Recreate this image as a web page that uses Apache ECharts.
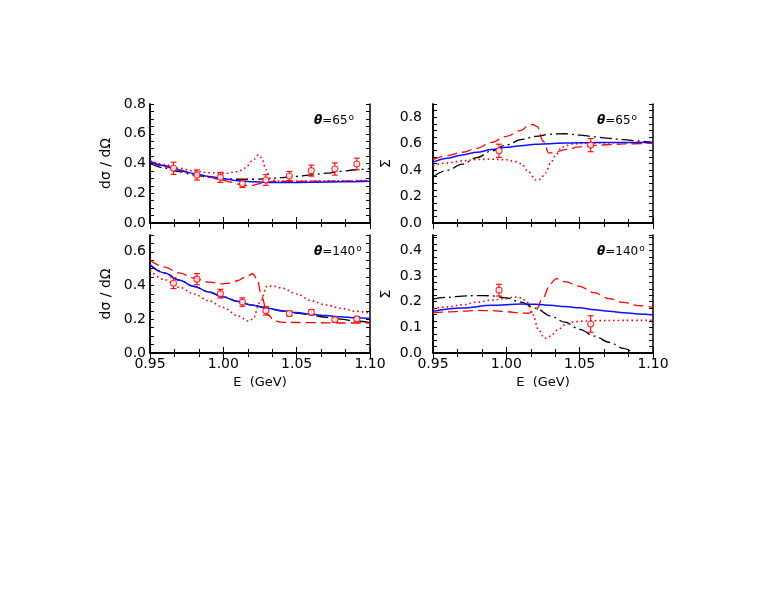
<!DOCTYPE html>
<html>
<head>
<meta charset="utf-8">
<script src="https://cdn.jsdelivr.net/npm/echarts@6/dist/echarts.min.js"></script>
<style>
  html, body { margin: 0; padding: 0; background: #fff; }
  #chart { width: 770px; height: 595px; }
</style>
</head>
<body>
<div id="chart"></div>
<script>
// ---- data ----
var X_TICKS = [0.95, 1.00, 1.05, 1.10];

// measured points, cross section
var E_DCS = [0.966, 0.982, 0.998, 1.013, 1.029, 1.045, 1.060, 1.076, 1.091];
var DCS65 = [0.368, 0.323, 0.307, 0.264, 0.289, 0.316, 0.352, 0.363, 0.397];
var DCS65_ERR = [0.041, 0.034, 0.034, 0.025, 0.036, 0.031, 0.037, 0.041, 0.039];
var DCS140 = [0.414, 0.438, 0.352, 0.302, 0.250, 0.234, 0.242, 0.198, 0.202];
var DCS140_ERR = [0.032, 0.033, 0.026, 0.025, 0.025, 0.015, 0.016, 0.014, 0.015];

// measured points, beam asymmetry
var E_ASY = [0.995, 1.0575];
var ASY65 = [0.546, 0.589];
var ASY65_ERR = [0.05, 0.05];
var ASY140 = [0.245, 0.113];
var ASY140_ERR = [0.023, 0.032];

// model curves [E, value]
var DCS65_BLUE = [[0.95,0.415],[0.96,0.385],[0.97,0.356],[0.98,0.332],[0.99,0.313],[1.00,0.298],[1.01,0.284],[1.02,0.277],[1.03,0.273],[1.04,0.272],[1.06,0.274],[1.08,0.277],[1.10,0.281]];
var DCS65_BLACK = [[0.95,0.40],[0.96,0.37],[0.97,0.345],[0.98,0.322],[0.99,0.307],[1.00,0.298],[1.01,0.294],[1.02,0.294],[1.03,0.297],[1.04,0.305],[1.05,0.314],[1.06,0.323],[1.07,0.335],[1.08,0.347],[1.09,0.358],[1.10,0.365]];
var DCS65_DASH = [[0.95,0.41],[0.96,0.38],[0.97,0.352],[0.98,0.328],[0.99,0.307],[1.00,0.287],[1.005,0.275],[1.01,0.262],[1.015,0.252],[1.02,0.253],[1.025,0.265],[1.03,0.277],[1.04,0.28],[1.06,0.281],[1.08,0.282],[1.10,0.283]];
var DCS65_DOT = [[0.95,0.42],[0.96,0.393],[0.97,0.368],[0.98,0.35],[0.99,0.338],[1.00,0.333],[1.01,0.345],[1.015,0.37],[1.02,0.42],[1.024,0.458],[1.026,0.44],[1.029,0.36],[1.032,0.30],[1.036,0.282],[1.05,0.281],[1.07,0.283],[1.10,0.286]];

var DCS140_BLUE = [[0.95,0.525],[0.96,0.475],[0.97,0.432],[0.98,0.395],[0.99,0.362],[1.00,0.332],[1.01,0.305],[1.02,0.283],[1.03,0.265],[1.04,0.251],[1.05,0.24],[1.06,0.23],[1.07,0.222],[1.08,0.215],[1.09,0.209],[1.10,0.204]];
var DCS140_BLACK = [[0.95,0.52],[0.96,0.473],[0.97,0.432],[0.98,0.395],[0.99,0.362],[1.00,0.333],[1.01,0.306],[1.02,0.284],[1.03,0.265],[1.04,0.249],[1.05,0.236],[1.06,0.224],[1.07,0.212],[1.08,0.201],[1.09,0.19],[1.10,0.18]];
var DCS140_DASH = [[0.95,0.55],[0.96,0.51],[0.97,0.475],[0.98,0.445],[0.99,0.42],[1.00,0.41],[1.005,0.415],[1.01,0.43],[1.015,0.45],[1.02,0.47],[1.023,0.44],[1.026,0.34],[1.03,0.23],[1.035,0.19],[1.04,0.182],[1.06,0.18],[1.08,0.178],[1.10,0.178]];
var DCS140_DOT = [[0.95,0.49],[0.96,0.435],[0.97,0.39],[0.98,0.35],[0.99,0.31],[1.00,0.27],[1.01,0.22],[1.017,0.19],[1.02,0.20],[1.025,0.30],[1.03,0.398],[1.035,0.395],[1.04,0.385],[1.05,0.35],[1.06,0.31],[1.07,0.285],[1.08,0.265],[1.09,0.248],[1.10,0.237]];

var ASY65_BLUE = [[0.95,0.46],[0.96,0.49],[0.97,0.515],[0.98,0.535],[0.99,0.555],[1.00,0.572],[1.01,0.585],[1.02,0.595],[1.03,0.60],[1.04,0.605],[1.06,0.608],[1.08,0.609],[1.10,0.61]];
var ASY65_BLACK = [[0.95,0.35],[0.96,0.40],[0.97,0.445],[0.98,0.495],[0.99,0.545],[1.00,0.59],[1.01,0.63],[1.02,0.655],[1.03,0.672],[1.04,0.675],[1.05,0.665],[1.06,0.652],[1.07,0.64],[1.08,0.63],[1.09,0.62],[1.10,0.608]];
var ASY65_DASH = [[0.95,0.48],[0.96,0.51],[0.97,0.535],[0.98,0.565],[0.99,0.61],[1.00,0.655],[1.01,0.70],[1.015,0.735],[1.018,0.745],[1.021,0.73],[1.025,0.62],[1.029,0.53],[1.032,0.53],[1.04,0.555],[1.05,0.575],[1.06,0.587],[1.07,0.593],[1.08,0.598],[1.10,0.603]];
var ASY65_DOT = [[0.95,0.435],[0.96,0.455],[0.97,0.47],[0.98,0.48],[0.99,0.483],[1.00,0.478],[1.005,0.468],[1.01,0.45],[1.015,0.39],[1.02,0.325],[1.023,0.33],[1.027,0.38],[1.03,0.45],[1.034,0.52],[1.038,0.575],[1.045,0.598],[1.06,0.605],[1.08,0.607],[1.10,0.607]];

var ASY140_BLUE = [[0.95,0.163],[0.97,0.175],[0.99,0.186],[1.01,0.191],[1.02,0.19],[1.03,0.186],[1.04,0.181],[1.05,0.176],[1.06,0.169],[1.07,0.163],[1.08,0.157],[1.09,0.152],[1.10,0.148]];
var ASY140_BLACK = [[0.95,0.21],[0.96,0.217],[0.97,0.222],[0.98,0.224],[0.99,0.223],[1.00,0.215],[1.01,0.198],[1.02,0.175],[1.03,0.145],[1.04,0.12],[1.05,0.092],[1.06,0.066],[1.07,0.042],[1.08,0.018],[1.09,-0.006],[1.10,-0.03]];
var ASY140_DASH = [[0.95,0.157],[0.96,0.16],[0.97,0.163],[0.98,0.166],[0.99,0.165],[1.00,0.161],[1.01,0.156],[1.015,0.155],[1.02,0.165],[1.025,0.215],[1.03,0.27],[1.034,0.29],[1.04,0.278],[1.05,0.26],[1.06,0.235],[1.07,0.212],[1.08,0.197],[1.09,0.185],[1.10,0.177]];
var ASY140_DOT = [[0.95,0.172],[0.96,0.18],[0.97,0.188],[0.98,0.198],[0.99,0.206],[1.00,0.212],[1.005,0.218],[1.01,0.215],[1.014,0.2],[1.018,0.15],[1.022,0.09],[1.026,0.057],[1.03,0.065],[1.035,0.09],[1.04,0.11],[1.045,0.12],[1.05,0.124],[1.06,0.126],[1.08,0.127],[1.10,0.127]];

// ---- layout ----
var FONT = 'DejaVu Sans';
var RED = '#ff0000', BLUE = '#1010ff';

var panels = [
  { grid: { left: 150, top: 104, width: 220, height: 119 }, yMax: 0.8, yStep: 0.05, labStep: 0.2,
    yName: 'dσ / dΩ', nameGap: 37, labMargin: 4, angle: '65', bottom: false,
    curves: [DCS65_BLACK, DCS65_DASH, DCS65_DOT, DCS65_BLUE], ex: E_DCS, ey: DCS65, ee: DCS65_ERR },
  { grid: { left: 150, top: 235, width: 220, height: 118 }, yMax: 0.7, yStep: 0.05, labStep: 0.2,
    yName: 'dσ / dΩ', nameGap: 37, labMargin: 4, angle: '140', bottom: true,
    curves: [DCS140_BLACK, DCS140_DASH, DCS140_DOT, DCS140_BLUE], ex: E_DCS, ey: DCS140, ee: DCS140_ERR },
  { grid: { left: 433, top: 104, width: 220, height: 119 }, yMax: 0.9, yStep: 0.05, labStep: 0.2,
    yName: 'Σ', nameGap: 40, labMargin: 11, angle: '65', bottom: false,
    curves: [ASY65_BLACK, ASY65_DASH, ASY65_DOT, ASY65_BLUE], ex: E_ASY, ey: ASY65, ee: ASY65_ERR },
  { grid: { left: 433, top: 235, width: 220, height: 118 }, yMax: 0.46, yStep: 0.025, labStep: 0.1,
    yName: 'Σ', nameGap: 40, labMargin: 11, angle: '140', bottom: true,
    curves: [ASY140_BLACK, ASY140_DASH, ASY140_DOT, ASY140_BLUE], ex: E_ASY, ey: ASY140, ee: ASY140_ERR }
];

var curveStyles = [
  { color: '#000', width: 1.3, type: [12, 4, 2, 4] },
  { color: RED, width: 1.3, type: [10, 5] },
  { color: RED, width: 1.6, type: [1.6, 3] },
  { color: BLUE, width: 1.5, type: 'solid' }
];

function isMult(v, step) {
  var r = v / step;
  return Math.abs(r - Math.round(r)) < 1e-6;
}

var grids = [], xAxes = [], yAxes = [], series = [], graphics = [];
var AX_LINE = { show: true, lineStyle: { color: '#000', width: 1.5 } };
var TICK_STYLE = { color: '#000', width: 1 };

panels.forEach(function (p, i) {
  grids.push(p.grid);
  var xi = xAxes.length, yi = yAxes.length;
  var w = p.grid.width, h = p.grid.height;

  var xBase = {
    type: 'value', gridIndex: i, min: X_TICKS[0], max: X_TICKS[X_TICKS.length - 1], interval: 0.05,
    splitLine: { show: false }, axisLine: AX_LINE,
    axisTick: { length: 6, lineStyle: TICK_STYLE },
    minorTick: { show: true, splitNumber: 3, length: 4, lineStyle: TICK_STYLE },
    axisLabel: { show: false }
  };
  // labelled bottom axis (no ticks)
  xAxes.push(Object.assign({}, xBase, {
    position: 'bottom', axisTick: { show: false }, minorTick: { show: false },
    axisLabel: { show: p.bottom, fontFamily: FONT, fontSize: 14, color: '#000', margin: 4,
      formatter: function (v) { return v.toFixed(2); } },
    name: p.bottom ? 'E  (GeV)' : '', nameLocation: 'middle', nameGap: 23,
    nameTextStyle: { fontFamily: FONT, fontSize: 13, color: '#000' }
  }));
  // ticks pointing up from the bottom edge, and down from the top edge
  xAxes.push(Object.assign({}, xBase, { position: 'top', offset: -h }));
  xAxes.push(Object.assign({}, xBase, { position: 'bottom', offset: -h }));

  var yBase = {
    type: 'value', gridIndex: i, min: 0, max: p.yMax, interval: p.yStep,
    splitLine: { show: false }, axisLine: AX_LINE,
    axisTick: { length: 4, lineStyle: TICK_STYLE },
    axisLabel: { show: false }
  };
  yAxes.push(Object.assign({}, yBase, {
    position: 'left', axisTick: { show: false },
    axisLabel: { fontFamily: FONT, fontSize: 14, color: '#000', margin: p.labMargin,
      formatter: function (v) { return isMult(v, p.labStep) ? v.toFixed(1) : ''; } },
    name: p.yName, nameLocation: 'middle', nameGap: p.nameGap,
    nameTextStyle: { fontFamily: FONT, fontSize: 14, color: '#000' }
  }));
  yAxes.push(Object.assign({}, yBase, { position: 'right', offset: -w }));
  yAxes.push(Object.assign({}, yBase, { position: 'left', offset: -w }));

  p.curves.forEach(function (c, k) {
    var s = curveStyles[k];
    series.push({
      type: 'line', xAxisIndex: xi, yAxisIndex: yi, data: c,
      symbol: 'none', smooth: 0.35, smoothMonotone: 'x', clip: true, z: 2 + (k === 3 ? 1 : 0),
      lineStyle: { color: s.color, width: s.width, type: s.type }
    });
  });

  series.push({
    type: 'custom', xAxisIndex: xi, yAxisIndex: yi, z: 5,
    data: p.ex.map(function (e, j) { return [e, p.ey[j], p.ee[j]]; }),
    renderItem: function (params, api) {
      var x = api.value(0), y = api.value(1), d = api.value(2);
      var t = api.coord([x, y + d]), b = api.coord([x, y - d]);
      var st = { stroke: RED, lineWidth: 1.1 };
      return { type: 'group', children: [
        { type: 'line', shape: { x1: t[0], y1: t[1], x2: b[0], y2: b[1] }, style: st },
        { type: 'line', shape: { x1: t[0] - 3, y1: t[1], x2: t[0] + 3, y2: t[1] }, style: st },
        { type: 'line', shape: { x1: b[0] - 3, y1: b[1], x2: b[0] + 3, y2: b[1] }, style: st }
      ] };
    }
  });
  series.push({
    type: 'scatter', xAxisIndex: xi, yAxisIndex: yi, z: 6,
    data: p.ex.map(function (e, j) { return [e, p.ey[j]]; }),
    symbol: 'circle', symbolSize: 6,
    itemStyle: { color: '#fff', borderColor: RED, borderWidth: 1.1 }
  });

  graphics.push({
    type: 'text', x: p.grid.left + w - 56, y: p.grid.top + 9,
    style: {
      text: '{t|θ}{n|=' + p.angle + '}{s|o}',
      rich: {
        t: { fontFamily: FONT, fontSize: 12, fontStyle: 'italic', fontWeight: 'bold', fill: '#000' },
        n: { fontFamily: FONT, fontSize: 12, fill: '#000' },
        s: { fontFamily: FONT, fontSize: 9, fill: '#000', verticalAlign: 'top', padding: [0, 0, 6, 1] }
      }
    }
  });
});

var chart = echarts.init(document.getElementById('chart'));
chart.setOption({
  animation: false,
  backgroundColor: '#fff',
  grid: grids,
  xAxis: xAxes,
  yAxis: yAxes,
  series: series,
  graphic: graphics
});
</script>
</body>
</html>
